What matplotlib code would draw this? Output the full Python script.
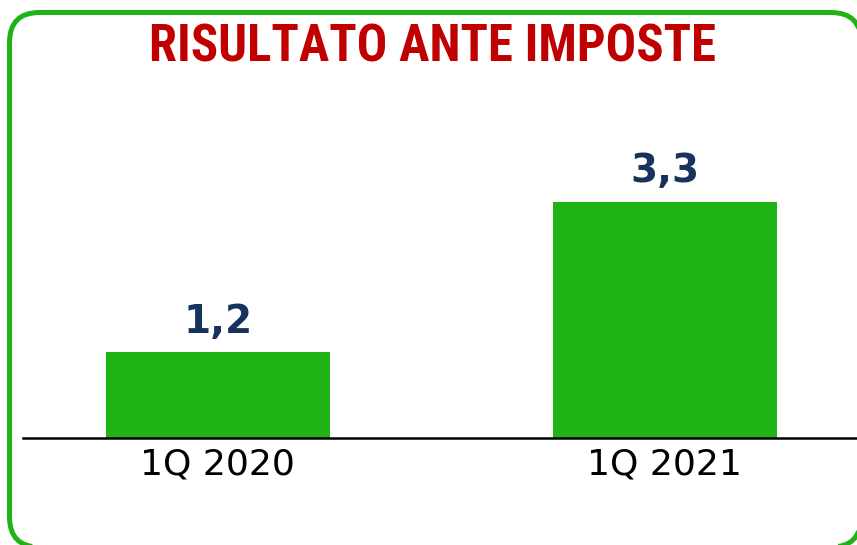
import matplotlib
matplotlib.use('Agg')
import matplotlib.pyplot as plt
from matplotlib.patches import FancyBboxPatch

# data
categories = ['1Q 2020', '1Q 2021']
values = [1.2, 3.3]
value_labels = ['1,2', '3,3']
title = 'RISULTATO ANTE IMPOSTE'

green = '#1fb316'
navy = '#17325c'
dark_red = '#c00000'

fig = plt.figure(figsize=(8.57, 5.45), dpi=100)

# frame with rounded corners, drawn in pixel units on a full-figure axes
bg = fig.add_axes([0, 0, 1, 1])
bg.set_xlim(0, 857)
bg.set_ylim(0, 545)
bg.axis('off')
frame = FancyBboxPatch((9.5, -2), 851.5, 534.5,
                       boxstyle='round,pad=0,rounding_size=30')
# turn the bezier corners into a polyline so the clipped right side renders cleanly
for poly in frame.get_path().to_polygons(closed_only=False):
    bg.plot(poly[:, 0], poly[:, 1], color=green, linewidth=3.6,
            solid_joinstyle='round')

# bar chart
ax = fig.add_axes([23 / 857, 107.5 / 545, 834 / 857, 337.5 / 545])
x = list(range(len(categories)))
bars = ax.bar(x, values, width=0.5, color=green, zorder=1)
ax.set_xlim(-0.436, 1.43)
ax.set_ylim(0, 4.72)
ax.patch.set_alpha(0)

for s in ['top', 'right', 'left']:
    ax.spines[s].set_visible(False)
ax.spines['bottom'].set_linewidth(1.8)
ax.spines['bottom'].set_zorder(3)
ax.set_yticks([])
ax.set_xticks(x)
ax.set_xticklabels(categories, fontsize=26, color='black')
ax.tick_params(axis='x', length=0, pad=7)

for xi, v, lab in zip(x, values, value_labels):
    ax.annotate(lab, (xi, v), xytext=(0, 8), textcoords='offset points',
                ha='center', va='bottom', fontsize=28, fontweight='bold',
                color=navy)

fig.text(0.505, 1 - 62 / 545, title, ha='center', va='baseline',
         fontsize=36.5, fontweight='bold', color=dark_red,
         family=['Roboto Condensed', 'Lato'])

fig.savefig('out.png', dpi=100)
